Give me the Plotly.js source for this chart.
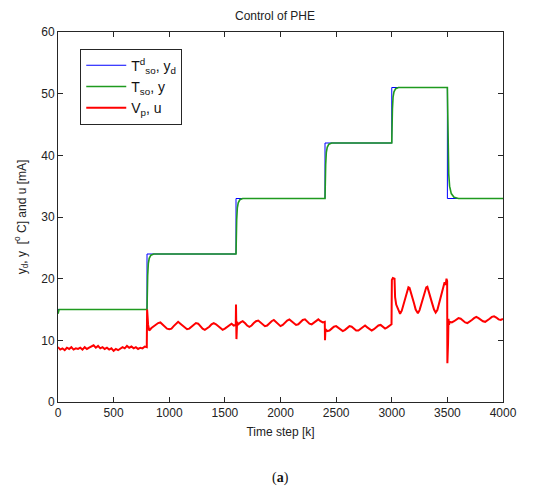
<!DOCTYPE html>
<html>
<head>
<meta charset="utf-8">
<script src="https://cdn.plot.ly/plotly-3.0.1.min.js"></script>
<style>body{margin:0;background:#fff}#chart{width:550px;height:491px}</style>
</head>
<body>
<div id="chart"></div>
<script>
// Setpoint (desired temperature) y_d
const setK = [0, 800, 1600, 2400, 3000, 3500, 4000];
const setV = [15, 24, 33, 42, 51, 33, 33];

// Measured temperature y
const tempK = [0, 10, 800, 802, 806, 812, 820, 835, 860, 1600, 1602, 1606, 1612, 1620, 1635, 1660,
  2400, 2402, 2406, 2412, 2420, 2435, 2460, 3000, 3002, 3006, 3012, 3020, 3035, 3060,
  3500, 3502, 3506, 3512, 3520, 3535, 3560, 3600, 4000];
const tempV = [14.3, 15.0, 15.0, 18.0, 20.5, 22.5, 23.3, 23.8, 24.0, 24.0, 27.0, 29.5, 31.5, 32.3, 32.8, 33.0,
  33.0, 36.0, 38.5, 40.5, 41.3, 41.8, 42.0, 42.0, 45.0, 47.5, 49.5, 50.3, 50.8, 51.0,
  51.0, 46.0, 40.0, 37.0, 35.0, 33.8, 33.2, 33.0, 33.0];

// Control signal u
const ctrlK = [
  0,20,40,60,80,100,120,140,160,180,
  200,220,240,260,280,300,320,340,360,380,
  400,420,440,460,480,500,520,540,560,580,
  600,620,640,660,680,700,720,740,760,780,
  798,801,810,820,
  840,860,880,900,920,940,960,980,1000,1020,1040,1060,1080,1100,1120,1140,1160,1180,1200,1220,
  1240,1260,1280,1300,1320,1340,1360,1380,1400,1420,1440,1460,1480,1500,1520,1540,1560,1580,
  1598,1600,1604,1610,
  1620,1640,1660,1680,1700,1720,1740,1760,1780,1800,1820,1840,1860,1880,1900,1920,1940,1960,1980,2000,
  2020,2040,2060,2080,2100,2120,2140,2160,2180,2200,2220,2240,2260,2280,2300,2320,2340,2360,2380,
  2398,2400,2404,
  2420,2440,2460,2480,2500,2520,2540,2560,2580,2600,2620,2640,2660,2680,2700,2720,2740,2760,2780,2800,
  2820,2840,2860,2880,2900,2920,2940,2960,2980,2998,
  3001,3010,3025,3030,3040,3055,3075,3090,3110,3130,3150,3160,3180,3200,3215,3235,3250,3270,3290,3310,
  3320,3340,3360,3380,3395,3410,3430,3450,3465,3475,3485,3492,3498,
  3500,3503,3506,3510,3515,3520,
  3540,3560,3580,3600,3620,3640,3660,3680,3700,3720,3740,3760,3780,3800,3820,3840,3860,3880,3900,3920,
  3940,3960,3980,4000];
const ctrlV = [
  8.9,8.5,8.7,8.4,8.8,8.6,8.9,8.5,8.7,8.6,
  8.8,8.5,8.9,8.6,8.8,9.0,9.2,8.8,9.1,8.7,
  8.9,8.6,8.8,8.5,8.7,8.3,8.6,8.4,8.7,8.9,
  8.7,9.1,8.8,9.0,8.7,8.9,8.6,8.8,8.7,9.0,
  8.9,15.0,12.5,11.6,
  12.0,12.3,12.6,12.8,12.9,12.6,12.2,11.9,11.8,11.9,12.3,12.6,13.0,12.7,12.4,12.0,11.8,11.9,12.2,12.6,
  12.8,12.7,12.3,11.9,11.7,11.9,12.2,12.6,12.8,12.6,12.3,11.9,11.7,11.9,12.2,12.5,12.7,12.4,
  12.5,15.8,10.2,13.0,
  12.6,12.9,13.1,12.8,12.4,12.2,12.4,12.8,13.1,13.2,12.9,12.5,12.3,12.4,12.8,13.1,13.3,13.0,12.6,12.3,
  12.5,12.9,13.2,13.4,13.1,12.7,12.5,12.6,13.0,13.3,13.4,13.1,12.7,12.6,12.9,13.2,13.4,13.1,12.9,
  13.0,10.0,11.8,
  11.5,11.6,11.9,12.2,12.3,12.0,11.7,11.5,11.7,12.0,12.3,12.2,11.9,11.6,11.6,11.9,12.2,12.4,12.1,11.8,
  11.6,11.8,12.1,12.4,12.5,12.2,11.9,12.1,12.3,12.6,
  19.8,20.1,20.0,17.0,15.8,15.0,14.3,14.8,16.0,17.4,18.6,18.5,17.4,16.0,15.0,14.4,14.9,16.1,17.5,18.6,
  18.7,17.6,16.2,15.0,14.5,14.9,16.3,17.8,19.0,19.4,19.0,20.0,19.6,
  6.3,14.0,9.5,13.5,12.5,13.0,
  12.9,13.1,13.4,13.6,13.5,13.2,12.9,12.8,13.0,13.3,13.6,13.8,13.6,13.3,13.1,13.0,13.2,13.5,13.8,13.9,
  13.7,13.4,13.3,13.5];

const xTicks = [0, 500, 1000, 1500, 2000, 2500, 3000, 3500, 4000];
const yTicks = [0, 10, 20, 30, 40, 50, 60];

const traces = [
  {x: setK, y: setV, mode: 'lines', line: {shape: 'hv', color: '#0000ff', width: 1},
   name: 'T<sup>d</sup><sub>so</sub>, y<sub>d</sub>'},
  {x: tempK, y: tempV, mode: 'lines', line: {color: '#1f9a1f', width: 1.6},
   name: 'T<sub>so</sub>, y'},
  {x: ctrlK, y: ctrlV, mode: 'lines', line: {color: '#ff0000', width: 2},
   name: 'V<sub>p</sub>, u'}
];

const axisCommon = {
  showline: true, mirror: 'ticks', linecolor: '#262626', linewidth: 1,
  ticks: 'inside', ticklen: 5, tickcolor: '#262626',
  showgrid: false, zeroline: false,
  tickfont: {family: 'Liberation Sans, Arial, sans-serif', size: 12, color: '#222'}
};

const layout = {
  width: 550, height: 491,
  margin: {l: 58, r: 47, t: 32, b: 89},
  paper_bgcolor: '#fff', plot_bgcolor: '#fff',
  font: {family: 'Liberation Sans, Arial, sans-serif', size: 12, color: '#222'},
  title: {text: 'Control of PHE', x: 0.5, xanchor: 'center', y: 0.968, yanchor: 'middle',
          font: {size: 12, color: '#222'}},
  xaxis: Object.assign({}, axisCommon, {
    range: [0, 4000], tickvals: xTicks, ticktext: xTicks.map(String),
    title: {text: 'Time step [k]', font: {size: 12}, standoff: 8}
  }),
  yaxis: Object.assign({}, axisCommon, {
    range: [0, 60], tickvals: yTicks, ticktext: yTicks.map(String),
    title: {text: 'y<sub>d</sub>, y  [<sup>o</sup> C] and u [mA]', font: {size: 12}, standoff: 12}
  }),
  showlegend: true,
  legend: {x: 0.05, y: 0.955, xanchor: 'left', yanchor: 'top',
           bgcolor: '#fff', bordercolor: '#262626', borderwidth: 1,
           font: {size: 14, color: '#111'}, itemwidth: 40, tracegroupgap: 0},
  annotations: [{
    text: '(<b>a</b>)', xref: 'paper', yref: 'paper', x: 0.5, y: -0.205,
    xanchor: 'center', yanchor: 'middle', showarrow: false,
    font: {family: 'Liberation Serif, Times New Roman, serif', size: 14, color: '#111'}
  }]
};

Plotly.newPlot('chart', traces, layout, {displayModeBar: false, staticPlot: true});
</script>
</body>
</html>
